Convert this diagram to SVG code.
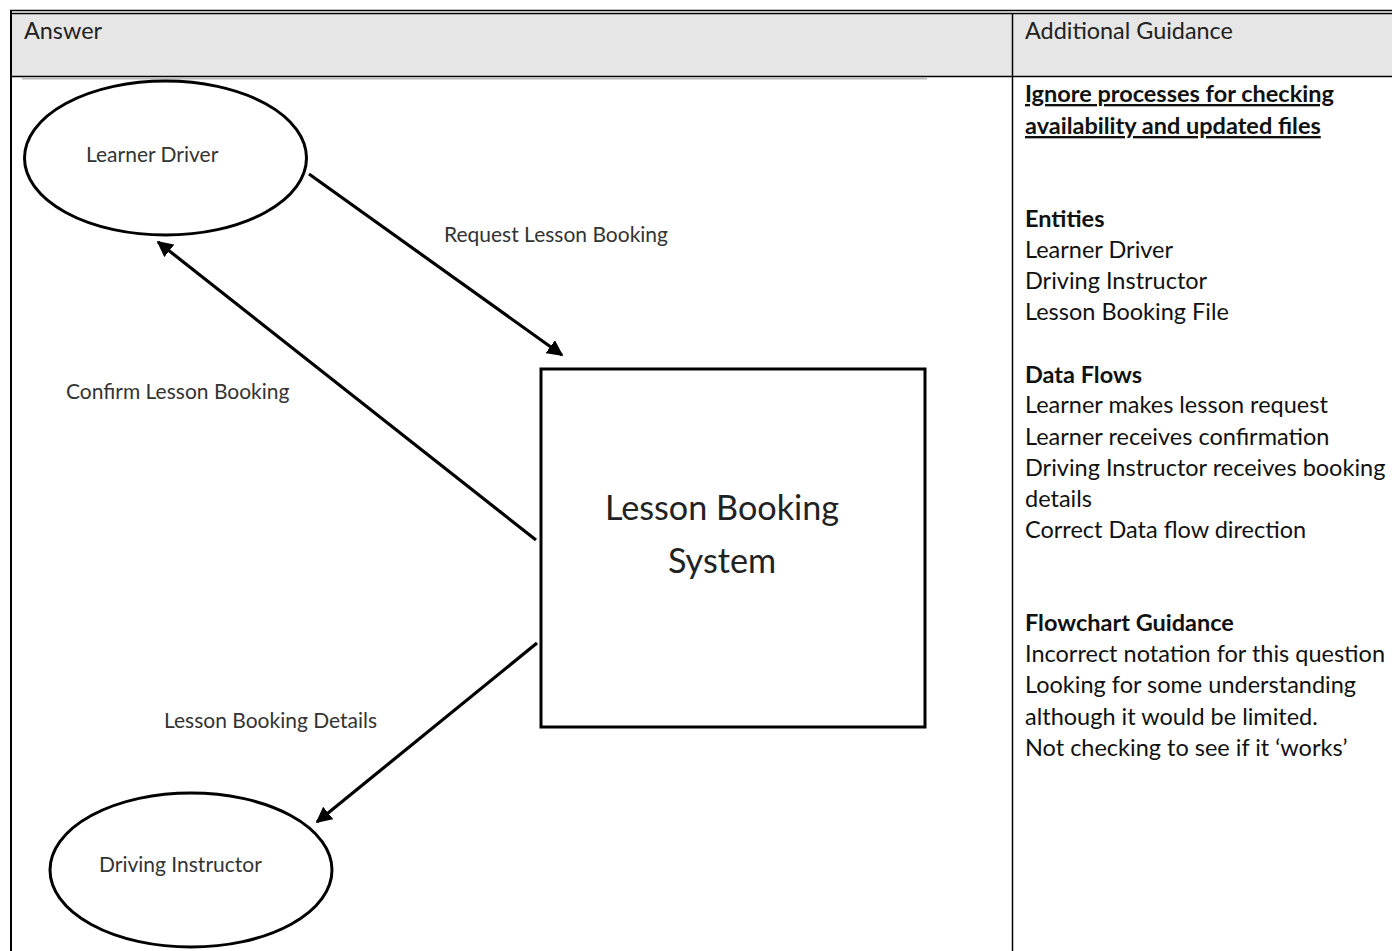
<svg xmlns="http://www.w3.org/2000/svg" width="1392" height="951" viewBox="0 0 1392 951">
<style>
.t{font-family:Lato,"Open Sans","Liberation Sans",sans-serif;fill:#222}
.h{font-size:23.4px}
.g{font-size:23.5px;fill:#111}
.b{font-weight:bold}
.lbl{font-family:Lato,"Open Sans","Liberation Sans",sans-serif;font-size:21px;fill:#333}
.big{font-family:Lato,"Open Sans","Liberation Sans",sans-serif;font-size:34.2px;fill:#222;text-anchor:middle}
.shape{fill:#fff;stroke:#000;stroke-width:3}
.conn{stroke:#000;stroke-width:3.2;fill:none;marker-end:url(#ah)}
.rule{stroke:#000;stroke-width:1.5}
</style>
<defs>
<marker id="ah" viewBox="0 0 10 10" refX="9" refY="5" markerWidth="5" markerHeight="5" orient="auto" markerUnits="strokeWidth">
<path d="M0,0 L10,5 L0,10 Z" fill="#000"/>
</marker>
</defs>
<rect width="1392" height="951" fill="#fff"/>
<g id="table">
<rect x="11" y="14" width="1381" height="62" fill="#e6e6e6"/>
<line class="rule" x1="10" y1="10.5" x2="1392" y2="10.5"/>
<line class="rule" x1="10" y1="13.5" x2="1392" y2="13.5"/>
<line class="rule" x1="11" y1="76.5" x2="1392" y2="76.5"/>
<line x1="22" y1="78.5" x2="927" y2="78.5" stroke="#bbb" stroke-width="2"/>
<line x1="11" y1="10" x2="11" y2="951" stroke="#000" stroke-width="2"/>
<line class="rule" x1="1012.5" y1="13" x2="1012.5" y2="951"/>
<text class="t h" x="24" y="39">Answer</text>
<text class="t h" x="1025" y="39">Additional Guidance</text>
</g>
<g id="guidance" class="t g">
<text class="b" x="1025" y="102" text-decoration="underline">Ignore processes for checking</text>
<text class="b" x="1025" y="134" text-decoration="underline">availability and updated files</text>
<text class="b" x="1025" y="227">Entities</text>
<text x="1025" y="258">Learner Driver</text>
<text x="1025" y="289">Driving Instructor</text>
<text x="1025" y="320">Lesson Booking File</text>
<text class="b" x="1025" y="383">Data Flows</text>
<text x="1025" y="413">Learner makes lesson request</text>
<text x="1025" y="445">Learner receives confirmation</text>
<text x="1025" y="476">Driving Instructor receives booking</text>
<text x="1025" y="507">details</text>
<text x="1025" y="538">Correct Data flow direction</text>
<text class="b" x="1025" y="631">Flowchart Guidance</text>
<text x="1025" y="662">Incorrect notation for this question</text>
<text x="1025" y="693">Looking for some understanding</text>
<text x="1025" y="725">although it would be limited.</text>
<text x="1025" y="756">Not checking to see if it ‘works’</text>
</g>
<g id="connectors">
<line class="conn" x1="309" y1="174" x2="562" y2="355"/>
<line class="conn" x1="536" y1="540" x2="158" y2="242"/>
<line class="conn" x1="537" y1="643" x2="317" y2="822"/>
<text class="lbl" x="444" y="242">Request Lesson Booking</text>
<text class="lbl" x="66" y="399">Confirm Lesson Booking</text>
<text class="lbl" x="164" y="728">Lesson Booking Details</text>
</g>
<g id="learner-driver">
<ellipse class="shape" cx="165.5" cy="158" rx="141" ry="77"/>
<text class="lbl" x="86" y="162">Learner Driver</text>
</g>
<g id="driving-instructor">
<ellipse class="shape" cx="191" cy="870" rx="141" ry="77"/>
<text class="lbl" x="99" y="872">Driving Instructor</text>
</g>
<g id="lesson-booking-system">
<rect class="shape" x="541" y="369" width="384" height="358" stroke-width="4"/>
<text class="big" x="722" y="520">Lesson Booking</text>
<text class="big" x="722" y="573">System</text>
</g>
</svg>
